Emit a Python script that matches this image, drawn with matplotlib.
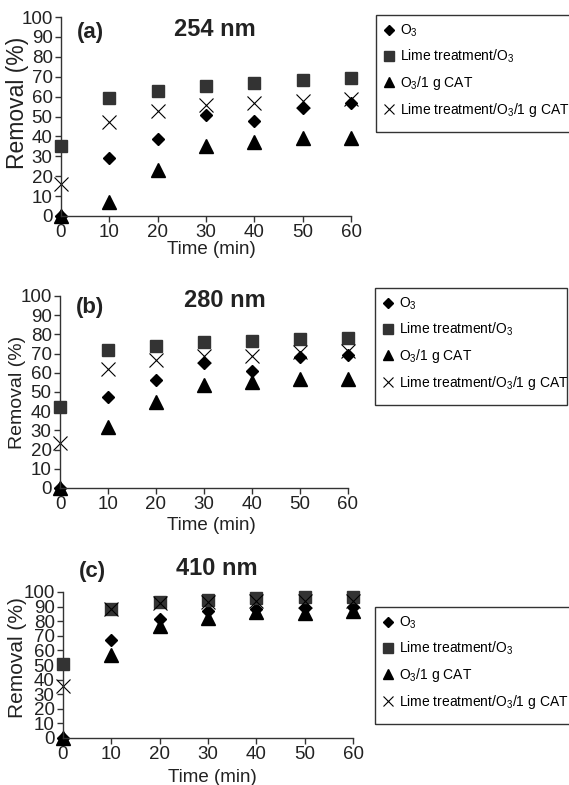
import matplotlib
matplotlib.use('Agg')
import matplotlib.pyplot as plt
from matplotlib.patches import Rectangle

plt.rcParams['font.family'] = ['Liberation Sans', 'DejaVu Sans']
plt.rcParams['mathtext.fontset'] = 'custom'
plt.rcParams['mathtext.rm'] = 'Liberation Sans'
plt.rcParams['mathtext.it'] = 'Liberation Sans:italic'

# tempo (min)
tempo = [0, 10, 20, 30, 40, 50, 60]

# (a) 254 nm
o3_254 = [0, 29, 38.7, 51, 47.7, 54.4, 57]
cal_254 = [35, 59.5, 63, 65.5, 66.8, 68.2, 69.3]
cat_254 = [0, 7, 23, 35, 37.4, 39, 39]
calcat_254 = [16.2, 47, 53, 55.6, 56.8, 58, 58.8]

# (b) 280 nm
o3_280 = [0, 47.3, 56.3, 65.3, 60.7, 68, 69.3]
cal_280 = [42, 72, 74, 76, 76.8, 77.5, 78.3]
cat_280 = [0, 31.7, 44.7, 53.7, 55, 56.7, 56.7]
calcat_280 = [23.4, 62, 66.7, 68.8, 68.8, 71, 71.2]

# (c) 410 nm
o3_410 = [0, 67.4, 81.7, 86.8, 88.4, 89, 90]
cal_410 = [51, 88.6, 93.4, 94.7, 96, 96.6, 96.6]
cat_410 = [0, 57, 77, 82, 86, 85.6, 86.8]
calcat_410 = [35.8, 88.6, 92.5, 93.4, 93.6, 94, 94]

rotulos = ['O$_3$', 'Lime treatment/O$_3$', 'O$_3$/1 g CAT',
           'Lime treatment/O$_3$/1 g CAT']
paineis = ['(a)', '(b)', '(c)']
comprimentos = ['254 nm', '280 nm', '410 nm']
dados = [
    [o3_254, cal_254, cat_254, calcat_254],
    [o3_280, cal_280, cat_280, calcat_280],
    [o3_410, cal_410, cat_410, calcat_410],
]

W, H = 569, 785
fig = plt.figure(figsize=(W / 100, H / 100), dpi=100)

# posicoes em pixels: esquerda, direita, topo, base
eixos_px = [(61, 351, 17, 216), (60, 348, 296, 488), (63, 353, 592, 738)]
# posicao dos textos (a)/(b)/(c) e nm em fracao do eixo
txt_painel = [(0.10, 0.92), (0.104, 0.9375), (0.10, 1.137)]
txt_nm = [(0.53, 0.935), (0.573, 0.974), (0.531, 1.164)]
# caixa da legenda em pixels: x, topo, base, direita
leg_px = [(376, 15, 132, 572), (375, 288, 405, 567), (375, 607, 724, 572)]
ylab_px = [(18, 102.5), (18, 392), (18, 658)]
xlab_px = [(211, 250), (211, 525), (212, 777)]
ylab_size = [16.5, 14, 15]

estilos = [
    dict(marker='D', ms=6.5, color='black'),
    dict(marker='s', ms=9, color='#333333'),
    dict(marker='^', ms=9.5, color='black'),
    dict(marker='x', ms=10, color='black', mew=0.8),
]

for i in range(3):
    l, r, t, b = eixos_px[i]
    ax = fig.add_axes([l / W, 1 - b / H, (r - l) / W, (b - t) / H])
    for serie, est, rot in zip(dados[i], estilos, rotulos):
        ax.plot(tempo, serie, linestyle='none', label=rot, clip_on=False, **est)

    ax.set_xlim(0, 60)
    ax.set_ylim(0, 100)
    ax.set_xticks(range(0, 61, 10))
    ax.set_yticks(range(0, 101, 10))
    ax.spines['top'].set_visible(False)
    ax.spines['right'].set_visible(False)
    for s in ['left', 'bottom']:
        ax.spines[s].set_color('#333333')
        ax.spines[s].set_linewidth(1)
    ax.tick_params(direction='out', length=4, width=1, color='#333333',
                   labelsize=13.5, labelcolor='#222222', pad=2)

    ax.set_xlabel('Time (min)', fontsize=13.5, color='#222222')
    ax.xaxis.label.set_va('center')
    ax.xaxis.set_label_coords(xlab_px[i][0] / W, 1 - xlab_px[i][1] / H,
                              transform=fig.transFigure)
    ax.set_ylabel('Removal (%)', fontsize=ylab_size[i], color='#222222')
    ax.yaxis.label.set_va('center')
    ax.yaxis.set_label_coords(ylab_px[i][0] / W, 1 - ylab_px[i][1] / H,
                              transform=fig.transFigure)

    ax.text(txt_painel[i][0], txt_painel[i][1], paineis[i], transform=ax.transAxes,
            fontsize=16, fontweight='bold', ha='center', va='center', color='#222222')
    ax.text(txt_nm[i][0], txt_nm[i][1], comprimentos[i], transform=ax.transAxes,
            fontsize=17, fontweight='bold', ha='center', va='center', color='#222222')

    lx, lt, lb, lr = leg_px[i]
    ax.legend(loc='upper left', bbox_to_anchor=((lx + 6) / W, 1 - (lt + 8) / H),
              bbox_transform=fig.transFigure, frameon=False, fontsize=10,
              handlelength=1.0, handletextpad=0.3, labelspacing=0.62,
              borderpad=0, borderaxespad=0, markerscale=0.75)
    fig.add_artist(Rectangle((lx / W, 1 - lb / H), (lr - lx) / W, (lb - lt) / H,
                             transform=fig.transFigure, fill=False,
                             edgecolor='#333333', linewidth=1))

fig.savefig('out.png', dpi=100)
